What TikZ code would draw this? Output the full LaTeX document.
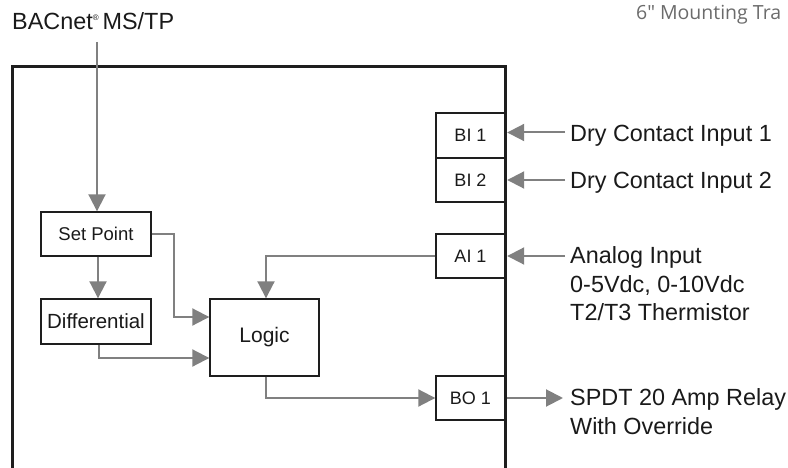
\documentclass[tikz,border=0pt]{standalone}
\usepackage{fontspec}
\setmainfont{Liberation Sans}
\newfontfamily\mountfont{Open Sans}
\usetikzlibrary{arrows.meta}
\definecolor{conncol}{HTML}{808080}
\definecolor{edgecol}{HTML}{1E1E1E}
\definecolor{textcol}{HTML}{1A1A1A}
\definecolor{mountcol}{HTML}{6B6B6B}
\begin{document}
\begin{tikzpicture}[x=1pt,y=-1pt,
  box/.style={draw=edgecol,line width=1.4pt,fill=white,inner sep=0pt,text=textcol,font=\fontsize{18}{20}\selectfont},
  wire/.style={draw=conncol,line width=2pt,-{Triangle[length=17pt,width=17pt]}},
  lbl/.style={font=\fontsize{23.4}{28.5}\selectfont,anchor=base west,inner sep=0pt,text=textcol,align=left}]
\useasboundingbox (0,0) rectangle (788,468);

% top texts
\node[lbl] (bacnet) at (12,30) {BACnet{\fontsize{8}{8}\selectfont\raisebox{9pt}{®}}\,MS/TP};
\node[lbl,font=\mountfont\fontsize{19.5}{20}\selectfont,text=mountcol] (mount) at (636,19.3) {6″ Mounting Tra};

% free ends
\coordinate (bacin) at (97,42);
\coordinate (d1) at (565,132.5);
\coordinate (d2) at (565,180);
\coordinate (an) at (565,256);
\coordinate (relay) at (563,398);

% left blocks
\node[box,minimum width=110pt,minimum height=44pt,font=\fontsize{18.5}{20}\selectfont] (sp) at (96,234) {Set Point};
\node[box,minimum width=110pt,minimum height=45pt,font=\fontsize{20.5}{22}\selectfont] (diff) at (96,321.5) {Differential};
\node[box,minimum width=109pt,minimum height=77pt,font=\fontsize{21}{24}\selectfont] (logic) at (264.5,337.5) {Logic};

% right blocks
\node[box,minimum width=69pt,minimum height=45pt] (bi1) at (470.5,135.5) {BI 1};
\node[box,minimum width=69pt,minimum height=44pt] (bi2) at (470.5,180) {BI 2};
\node[box,minimum width=69pt,minimum height=44pt] (ai1) at (470.5,256) {AI 1};
\node[box,minimum width=69pt,minimum height=44pt] (bo1) at (470.5,398) {BO 1};

% main frame
\draw[edgecol,line width=3pt] (12,469) -- (12,67) -- (505,67) -- (505,469);

% connectors
\draw[wire] (bacin) -- (bacin |- sp.north);
\draw[wire] ([xshift=2pt]sp.south) -- ([xshift=2pt]diff.north);
\draw[wire] (sp.east) -- ++(22,0) |- ([yshift=20.5pt]logic.west);
\draw[wire] ([xshift=3pt]diff.south) |- ([yshift=-20.5pt]logic.west);
\draw[wire] (ai1.west) -| ([xshift=1.5pt]logic.north);
\draw[wire] ([xshift=1.5pt]logic.south) |- (bo1.west);
\draw[wire] (d1) -- ([xshift=1.5pt]d1 -| bi1.east);
\draw[wire] (d2) -- ([xshift=1.5pt]d2 -| bi2.east);
\draw[wire] (an) -- ([xshift=1.5pt]an -| ai1.east);
\draw[wire] ([xshift=1.5pt]bo1.east) -- (relay);

% right labels (base anchor is the last line's baseline)
\node[lbl] (t1) at (570,141.5) {Dry Contact Input 1};
\node[lbl] (t2) at (570,188.3) {Dry Contact Input 2};
\node[lbl] (t3) at (570,320.5) {Analog Input\\0-5Vdc, 0-10Vdc\\T2/T3 Thermistor};
\node[lbl] (t4) at (570,434.3) {SPDT 20 Amp Relay\\With Override};
\end{tikzpicture}
\end{document}
